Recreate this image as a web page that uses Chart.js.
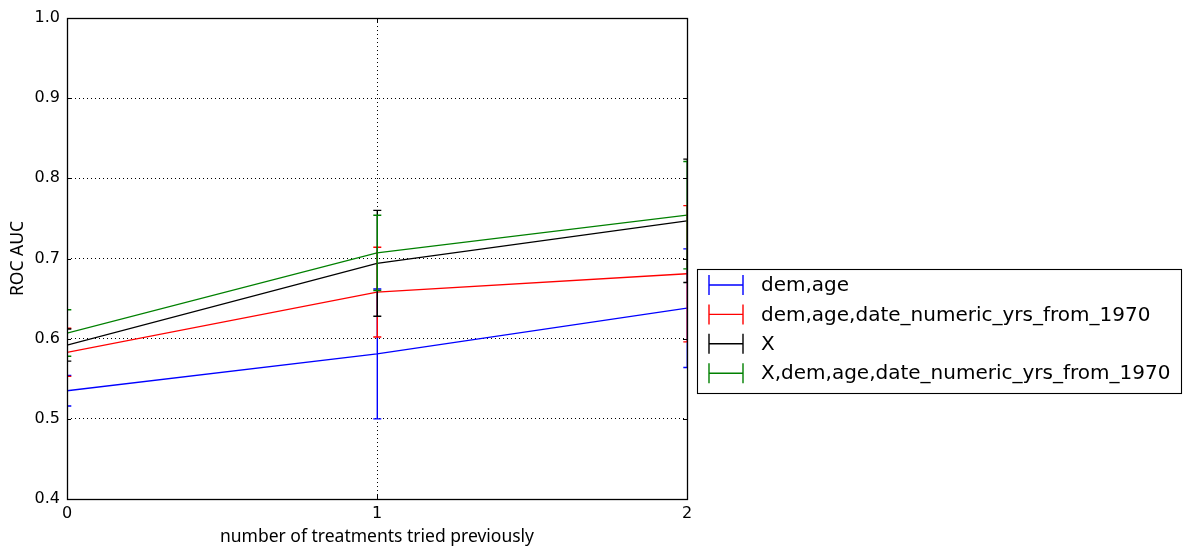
<!DOCTYPE html>
<html>
<head>
<meta charset="utf-8">
<script src="https://cdn.jsdelivr.net/npm/chart.js@4.4.0/dist/chart.umd.min.js"></script>
<style>
  html, body { margin: 0; padding: 0; background: #fff; }
  #wrap { width: 1191px; height: 557px; }
</style>
</head>
<body>
<div id="wrap"><canvas id="rocChart"></canvas></div>
<script>
// values
const treatments = [0, 1, 2];
const seriesNames = ["dem,age", "dem,age,date_numeric_yrs_from_1970", "X", "X,dem,age,date_numeric_yrs_from_1970"];
const seriesColors = ["#0000ff", "#ff0000", "#000000", "#008000"];
const demAge = [0.535, 0.581, 0.638];
const demAgeErr = [0.019, 0.081, 0.074];
const demAgeDate = [0.583, 0.658, 0.681];
const demAgeDateErr = [0.030, 0.056, 0.085];
const xOnly = [0.592, 0.694, 0.747];
const xOnlyErr = [0.020, 0.066, 0.077];
const xAll = [0.607, 0.707, 0.754];
const xAllErr = [0.029, 0.047, 0.067];
const yTicks = [0.4, 0.5, 0.6, 0.7, 0.8, 0.9, 1.0];

const means = [demAge, demAgeDate, xOnly, xAll];
const errs = [demAgeErr, demAgeDateErr, xOnlyErr, xAllErr];

Chart.defaults.font.family = "'DejaVu Sans', sans-serif";
Chart.defaults.color = "#000";

// error bars, clipped to the axes like matplotlib
const errorBars = {
  id: "errorBars",
  afterDatasetsDraw(chart) {
    const { ctx, chartArea: a, scales: { x, y } } = chart;
    ctx.save();
    ctx.beginPath();
    ctx.rect(a.left, a.top, a.right - a.left, a.bottom - a.top);
    ctx.clip();
    ctx.lineWidth = 1.4;
    for (let i = 0; i < means.length; i++) {
      ctx.strokeStyle = seriesColors[i];
      treatments.forEach((t, j) => {
        const px = x.getPixelForValue(t) + 0.3;
        const y1 = y.getPixelForValue(means[i][j] + errs[i][j]);
        const y2 = y.getPixelForValue(means[i][j] - errs[i][j]);
        ctx.beginPath();
        ctx.moveTo(px, y1); ctx.lineTo(px, y2);
        ctx.moveTo(px - 4, y1); ctx.lineTo(px + 4, y1);
        ctx.moveTo(px - 4, y2); ctx.lineTo(px + 4, y2);
        ctx.stroke();
      });
    }
    ctx.restore();
  }
};

// box, inward ticks and the legend outside on the right
const frame = {
  id: "frame",
  afterDraw(chart) {
    const { ctx, chartArea: a, scales: { x, y } } = chart;
    ctx.save();
    ctx.strokeStyle = "#000";
    ctx.lineWidth = 1;
    ctx.beginPath();
    yTicks.forEach(v => {
      const py = Math.round(y.getPixelForValue(v)) + 0.5;
      ctx.moveTo(a.left, py); ctx.lineTo(a.left + 4, py);
      ctx.moveTo(a.right, py); ctx.lineTo(a.right - 4, py);
    });
    treatments.forEach(t => {
      const px = Math.round(x.getPixelForValue(t)) + 0.5;
      ctx.moveTo(px, a.bottom); ctx.lineTo(px, a.bottom - 4);
      ctx.moveTo(px, a.top); ctx.lineTo(px, a.top + 4);
    });
    ctx.stroke();
    ctx.lineWidth = 1.3;
    ctx.strokeRect(Math.round(a.left) + 0.5, Math.round(a.top) + 0.5,
      Math.round(a.right - a.left), Math.round(a.bottom - a.top));

    // legend
    const lx = 697.5, ly = 269.5, lw = 484, lh = 124;
    ctx.lineWidth = 1.1;
    ctx.strokeRect(lx, ly, lw, lh);
    ctx.font = "20px 'DejaVu Sans'";
    ctx.textBaseline = "middle";
    ctx.textAlign = "left";
    seriesNames.forEach((name, i) => {
      const cy = 285 + i * 29.4;
      ctx.strokeStyle = seriesColors[i];
      ctx.lineWidth = 1.4;
      ctx.beginPath();
      ctx.moveTo(709, cy); ctx.lineTo(743, cy);
      ctx.moveTo(709, cy - 10); ctx.lineTo(709, cy + 10);
      ctx.moveTo(743, cy - 10); ctx.lineTo(743, cy + 10);
      ctx.stroke();
      ctx.fillStyle = "#000";
      ctx.fillText(name, 761, cy + 1);
    });
    ctx.restore();
  }
};

const ctx1 = document.getElementById("rocChart").getContext("2d");
new Chart(ctx1, {
  type: "line",
  data: {
    datasets: seriesNames.map((name, i) => ({
      label: name,
      data: treatments.map((t, j) => ({ x: t, y: means[i][j] })),
      borderColor: seriesColors[i],
      backgroundColor: seriesColors[i],
      borderWidth: 1.3,
      pointRadius: 0,
      tension: 0,
      fill: false
    }))
  },
  options: {
    responsive: true,
    maintainAspectRatio: false,
    animation: false,
    layout: { padding: { top: 18, right: 504, left: 0, bottom: 0 } },
    plugins: { legend: { display: false }, tooltip: { enabled: false } },
    scales: {
      x: {
        type: "linear",
        min: 0, max: 2,
        afterFit(scale) { scale.height = 58; },
        afterBuildTicks(scale) { scale.ticks = treatments.map(v => ({ value: v })); },
        grid: { color: "#000", drawTicks: false, lineWidth: 1 },
        border: { display: false, dash: [1, 3] },
        ticks: { padding: 5, font: { size: 16 }, callback: v => String(v), maxRotation: 0 },
        title: { display: true, text: "number of treatments tried previously",
          font: { family: "'Noto Sans'", size: 17.5 }, padding: { top: 4, bottom: 9.5 } }
      },
      y: {
        min: 0.4, max: 1.0,
        afterFit(scale) { scale.width = 67; },
        afterBuildTicks(scale) { scale.ticks = yTicks.map(v => ({ value: v })); },
        grid: { color: "#000", drawTicks: false, lineWidth: 1 },
        border: { display: false, dash: [1, 3] },
        ticks: { padding: 7, font: { size: 16 }, callback: v => v.toFixed(1) },
        title: { display: true, text: "ROC AUC", font: { family: "'Noto Sans'", size: 17.5 }, padding: { top: 7.5, bottom: 2 } }
      }
    }
  },
  plugins: [errorBars, frame]
});
</script>
</body>
</html>
